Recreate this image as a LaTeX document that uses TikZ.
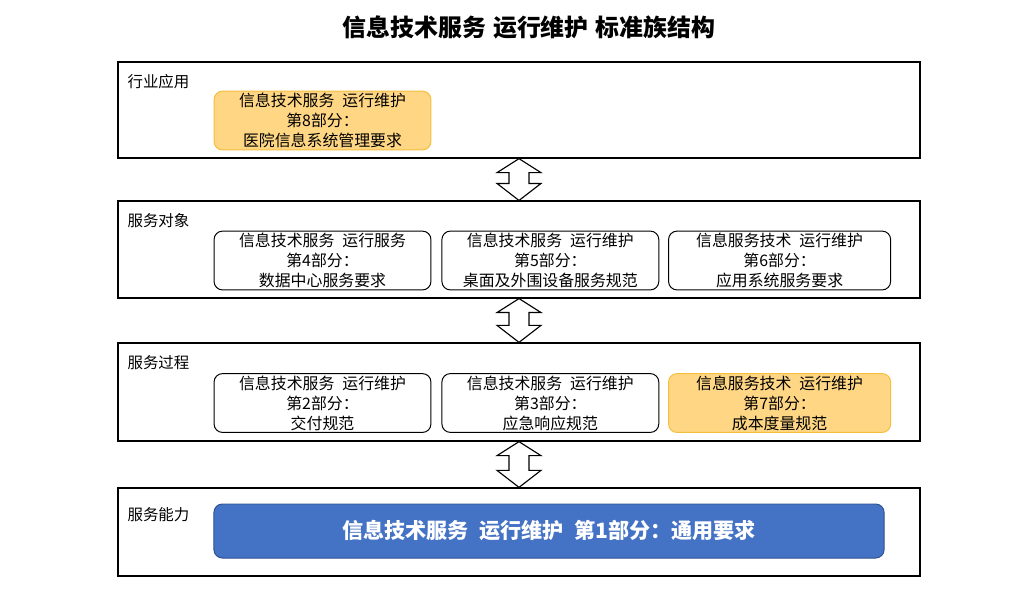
\documentclass[tikz,border=0pt]{standalone}
\usepackage{fontspec}
\setmainfont{Noto Sans CJK SC}
\usepackage{xcolor}
\usepackage{tikz}
\usetikzlibrary{positioning, shapes, calc}

\definecolor{orangefill}{HTML}{FFD784}
\definecolor{orangeline}{HTML}{F4BE3E}
\definecolor{bluefill}{HTML}{4472C4}
\definecolor{blueline}{HTML}{2F528F}

% block arrow with two heads between two layers
\newcommand{\blockarrow}[2]{%
  \draw[line width=0.8pt, fill=white, line join=miter]
    (#1.south) -- ($(#1.south)+(22,14)$) -- ($(#1.south)+(10,14)$)
    -- ($(#2.north)+(10,-17)$) -- ($(#2.north)+(22,-17)$) -- (#2.north)
    -- ($(#2.north)+(-22,-17)$) -- ($(#2.north)+(-10,-17)$)
    -- ($(#1.south)+(-10,14)$) -- ($(#1.south)+(-22,14)$) -- cycle;}

\newcommand{\gap}{\hspace{0.5em}}

\begin{document}
\begin{tikzpicture}[
  x=0.025cm, y=-0.025cm,
  font=\fontsize{11.3}{14.2}\selectfont,
  layer/.style={draw, line width=0.9pt, minimum width=20.05cm, inner sep=0pt},
  lname/.style={anchor=north west, inner sep=0pt, font=\fontsize{11}{13}\selectfont},
  part/.style={draw, line width=0.7pt, rounded corners=6pt, minimum width=5.42cm, minimum height=1.47cm, align=center, inner sep=0pt},
  hl/.style={fill=orangefill, draw=orangeline}
]
  \useasboundingbox (0,0) rectangle (1036,594);

  \node[font=\fontsize{17}{19}\selectfont\bfseries] (title) at (529,27) {信息技术服务\hspace{0.3em}运行维护\hspace{0.3em}标准族结构};

  % layers
  \node[layer, minimum height=2.4cm] (hangye) at (519,110) {};
  \node[layer, minimum height=2.42cm] (duixiang) at (519,249.5) {};
  \node[layer, minimum height=2.45cm] (guocheng) at (519,392) {};
  \node[layer, minimum height=2.2cm] (nengli) at (519,532) {};

  \node[lname] (hangyeName) at ($(hangye.north west)+(10,13)$) {行业应用};
  \node[lname] (duixiangName) at ($(duixiang.north west)+(10,13)$) {服务对象};
  \node[lname] (guochengName) at ($(guocheng.north west)+(10,13)$) {服务过程};
  \node[lname] (nengliName) at ($(nengli.north west)+(10,20)$) {服务能力};

  % parts
  \node[part, hl] (p8) at (322.5,120.5) {信息技术服务\gap 运行维护\\第8部分：\\医院信息系统管理要求};

  \node[part] (p4) at (322.5,260.5) {信息技术服务\gap 运行服务\\第4部分：\\数据中心服务要求};
  \node[part, right=0.25cm of p4] (p5) {信息技术服务\gap 运行维护\\第5部分：\\桌面及外围设备服务规范};
  \node[part, right=0.22cm of p5, minimum width=5.55cm] (p6) {信息服务技术\gap 运行维护\\第6部分：\\应用系统服务要求};

  \node[part] (p2) at (322.5,403) {信息技术服务\gap 运行维护\\第2部分：\\交付规范};
  \node[part, right=0.25cm of p2] (p3) {信息技术服务\gap 运行维护\\第3部分：\\应急响应规范};
  \node[part, hl, right=0.22cm of p3, minimum width=5.55cm] (p7) {信息服务技术\gap 运行维护\\第7部分：\\成本度量规范};

  \node[part, fill=bluefill, draw=blueline, minimum width=16.75cm, minimum height=1.35cm,
        text=white, font=\fontsize{15}{17}\selectfont\bfseries] (p1) at (549,531)
        {信息技术服务\gap 运行维护\gap 第1部分：通用要求};

  % arrows between layers
  \blockarrow{hangye}{duixiang}
  \blockarrow{duixiang}{guocheng}
  \blockarrow{guocheng}{nengli}
\end{tikzpicture}
\end{document}
